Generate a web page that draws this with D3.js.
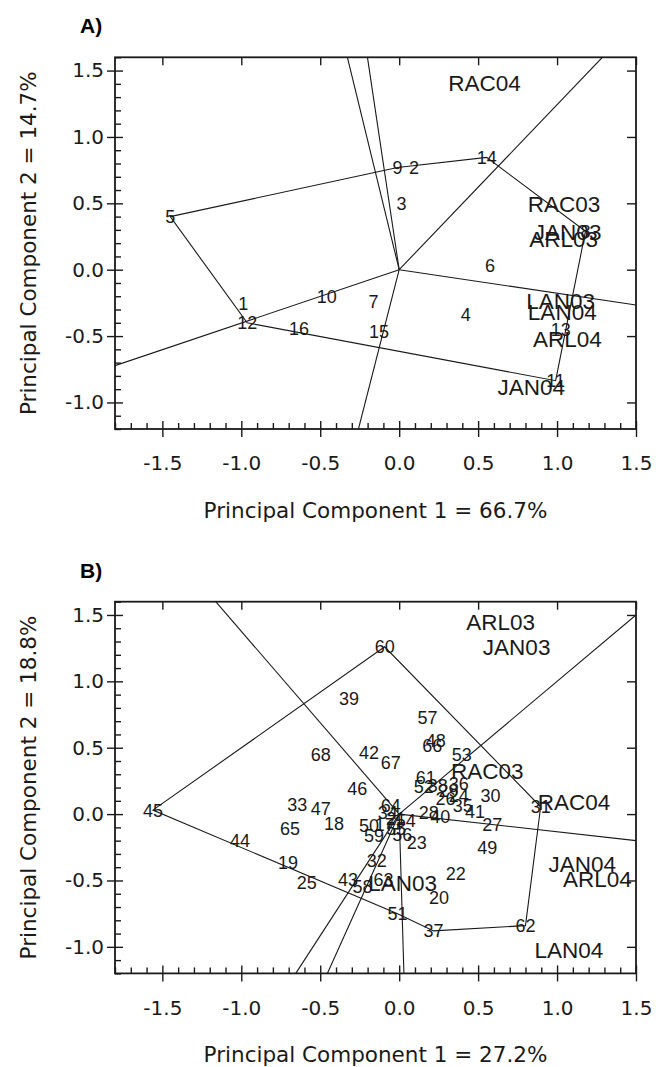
<!DOCTYPE html>
<html><head><meta charset="utf-8">
<script src="https://cdn.jsdelivr.net/npm/d3@7"></script>
<style>body{margin:0;background:#fff}</style>
</head><body>
<script>
// ---------- shared axis data ----------
const xDomain = [-1.8, 1.5];
const yDomain = [-1.2, 1.6];
const xTickValues = [-1.5, -1.0, -0.5, 0.0, 0.5, 1.0, 1.5];
const xTickLabels = ["-1.5", "-1.0", "-0.5", "0.0", "0.5", "1.0", "1.5"];
const yTickValues = [-1.0, -0.5, 0.0, 0.5, 1.0, 1.5];
const yTickLabels = ["-1.0", "-0.5", "0.0", "0.5", "1.0", "1.5"];

// ---------- Panel A ----------
const panelA_label = "A)";
const panelA_xTitle = "Principal Component 1 = 66.7%";
const panelA_yTitle = "Principal Component 2 = 14.7%";
const genoA_ids = ["1","2","3","4","5","6","7","8","9","10","11","12","13","14","15","16"];
const genoA_pc1 = [-0.987, 0.094, 0.014, 0.421, -1.45, 0.575, -0.163, 1.18, -0.01, -0.459, 0.991, -0.963, 1.023, 0.554, -0.128, -0.635];
const genoA_pc2 = [-0.258, 0.768, 0.495, -0.339, 0.40, 0.03, -0.241, 0.29, 0.77, -0.203, -0.836, -0.40, -0.447, 0.846, -0.465, -0.44];
const envA_names = ["RAC04", "RAC03", "JAN03", "ARL03", "LAN03", "LAN04", "ARL04", "JAN04"];
const envA_pc1 = [0.541, 1.044, 1.067, 1.042, 1.023, 1.033, 1.065, 0.837];
const envA_pc2 = [1.41, 0.495, 0.286, 0.234, -0.234, -0.32, -0.522, -0.881];
const hullA = ["5", "9", "14", "8", "11", "12"];
const rayA_pc1 = [-0.328, -0.201, 1.287, 1.5, -0.258, -1.8];
const rayA_pc2 = [1.6, 1.6, 1.6, -0.266, -1.2, -0.723];

// ---------- Panel B ----------
const panelB_label = "B)";
const panelB_xTitle = "Principal Component 1 = 27.2%";
const panelB_yTitle = "Principal Component 2 = 18.8%";
const genoB_ids = ["17","18","19","20","21","22","23","24","25","26","27","28","29","30","31","32","33","34","35","36","37","38","39","40","41","42","43","44","45","46","47","48","49","50","51","52","53","54","55","56","57","58","59","60","61","62","63","64","65","66","67","68"];
const genoB_pc1 = [-0.092, -0.413, -0.704, 0.252, -0.02, 0.358, 0.111, 0.377, -0.586, 0.294, 0.59, 0.187, 0.313, 0.579, 0.896, -0.142, -0.645, -0.073, 0.402, 0.377, 0.218, 0.244, -0.318, 0.26, 0.48, -0.191, -0.324, -1.008, -1.56, -0.265, -0.497, 0.231, 0.558, -0.191, -0.01, 0.155, 0.396, 0.041, -0.02, 0.02, 0.179, -0.233, -0.16, -0.092, 0.168, 0.80, -0.10, -0.054, -0.692, 0.21, -0.054, -0.497];
const genoB_pc2 = [-0.08, -0.071, -0.365, -0.629, -0.035, -0.448, -0.214, 0.138, -0.516, 0.115, -0.075, 0.01, 0.176, 0.138, 0.055, -0.347, 0.07, 0.01, 0.063, 0.229, -0.88, 0.214, 0.867, -0.015, 0.02, 0.465, -0.49, -0.201, 0.03, 0.189, 0.045, 0.553, -0.252, -0.088, -0.75, 0.206, 0.452, -0.05, -0.11, -0.151, 0.728, -0.548, -0.164, 1.26, 0.274, -0.84, -0.49, 0.063, -0.106, 0.515, 0.389, 0.452];
const envB_names = ["ARL03", "JAN03", "RAC03", "RAC04", "JAN04", "ARL04", "LAN03", "LAN04"];
const envB_pc1 = [0.643, 0.744, 0.558, 1.107, 1.16, 1.255, 0.022, 1.075];
const envB_pc2 = [1.445, 1.256, 0.327, 0.095, -0.373, -0.49, -0.518, -1.023];
const hullB = ["45", "60", "31", "62", "37", "51"];
const rayB_pc1 = [-1.162, 1.5, 1.5, 0.03, -0.455, -0.655];
const rayB_pc2 = [1.6, 1.5, -0.2, -1.2, -1.2, -1.2];

// ---------- drawing ----------
const W = 663, H = 1067;
const svg = d3.select("body").append("svg").attr("width", W).attr("height", H)
  .style("font-family", "'DejaVu Sans', Verdana, sans-serif");

const plotLeft = 115, plotRight = 636, plotH = 371.7;
const tickFont = "20px", titleFont = "21.5px";
const ink = "#1a1a1a";

function drawPanel(p, top) {
  const x = d3.scaleLinear().domain(xDomain).range([plotLeft, plotRight]);
  const y = d3.scaleLinear().domain(yDomain).range([top + plotH, top]);
  const g = svg.append("g");
  const bottom = top + plotH;
  const minorX = d3.range(-18, 16).map(v => v / 10).filter(v => !xTickValues.some(t => Math.abs(t - v) < 1e-9));
  const minorY = d3.range(-12, 17).map(v => v / 10).filter(v => !yTickValues.some(t => Math.abs(t - v) < 1e-9));

  const lblY = d => yTickLabels[yTickValues.indexOf(d)];
  const lblX = d => xTickLabels[xTickValues.indexOf(d)];
  const styleAxis = sel => {
    sel.select(".domain").remove();
    sel.selectAll("line").attr("stroke", ink).attr("stroke-width", 1.4);
    sel.selectAll("text").attr("fill", ink).style("font-size", tickFont).style("font-family", "'DejaVu Sans', sans-serif");
  };
  // left axis
  g.append("g").attr("transform", `translate(${plotLeft},0)`)
    .call(d3.axisLeft(y).tickValues(yTickValues).tickSize(8).tickPadding(3).tickFormat(lblY)).call(styleAxis);
  g.append("g").attr("transform", `translate(${plotLeft},0)`)
    .call(d3.axisRight(y).tickValues(yTickValues).tickSize(8).tickFormat("")).call(styleAxis);
  g.append("g").attr("transform", `translate(${plotLeft},0)`)
    .call(d3.axisRight(y).tickValues(minorY).tickSize(6).tickFormat("")).call(styleAxis);
  // bottom axis
  g.append("g").attr("transform", `translate(0,${bottom})`)
    .call(d3.axisBottom(x).tickValues(xTickValues).tickSize(8).tickPadding(19).tickFormat(lblX)).call(styleAxis);
  g.append("g").attr("transform", `translate(0,${bottom})`)
    .call(d3.axisTop(x).tickValues(xTickValues).tickSize(8).tickFormat("")).call(styleAxis);
  g.append("g").attr("transform", `translate(0,${bottom})`)
    .call(d3.axisTop(x).tickValues(minorX).tickSize(6).tickFormat("")).call(styleAxis);
  // top & right (inner majors only)
  g.append("g").attr("transform", `translate(0,${top})`)
    .call(d3.axisBottom(x).tickValues(xTickValues).tickSize(8).tickFormat("")).call(styleAxis);
  g.append("g").attr("transform", `translate(${plotRight},0)`)
    .call(d3.axisLeft(y).tickValues(yTickValues).tickSize(9).tickFormat("")).call(styleAxis);

  // clip
  const clipId = "clip" + Math.round(top);
  svg.append("clipPath").attr("id", clipId).append("rect")
    .attr("x", plotLeft).attr("y", top).attr("width", plotRight - plotLeft).attr("height", plotH);
  const inner = g.append("g").attr("clip-path", `url(#${clipId})`);

  // rays from origin
  p.rayX.forEach((rx, i) => {
    inner.append("line").attr("x1", x(0)).attr("y1", y(0)).attr("x2", x(rx)).attr("y2", y(p.rayY[i]))
      .attr("stroke", ink).attr("stroke-width", 1.1);
  });
  // hull polygon
  const pts = p.hull.map(id => { const i = p.gIds.indexOf(id); return [x(p.gX[i]), y(p.gY[i])]; });
  inner.append("path").attr("d", d3.line()(pts) + "Z").attr("fill", "none").attr("stroke", ink).attr("stroke-width", 1.1);

  // genotype labels
  p.gIds.forEach((id, i) => {
    inner.append("text").attr("x", x(p.gX[i])).attr("y", y(p.gY[i])).attr("dy", "0.36em")
      .attr("text-anchor", "middle").attr("fill", ink)
      .style("font-family", "'Liberation Sans', Arial, sans-serif").style("font-size", "18px").text(id);
  });
  // environment labels
  p.eN.forEach((n, i) => {
    inner.append("text").attr("x", x(p.eX[i])).attr("y", y(p.eY[i])).attr("dy", "0.36em")
      .attr("text-anchor", "middle").attr("fill", ink)
      .style("font-family", "'Liberation Sans', Arial, sans-serif").style("font-size", "22.5px").text(n);
  });

  // frame
  g.append("rect").attr("x", plotLeft).attr("y", top).attr("width", plotRight - plotLeft).attr("height", plotH)
    .attr("fill", "none").attr("stroke", ink).attr("stroke-width", 1.8);

  // titles
  g.append("text").attr("x", (plotLeft + plotRight) / 2).attr("y", bottom + 88.5).attr("text-anchor", "middle")
    .attr("fill", ink).style("font-size", titleFont).text(p.xTitle);
  g.append("text").attr("transform", `translate(36,${top + plotH / 2}) rotate(-90)`).attr("text-anchor", "middle")
    .attr("fill", ink).style("font-size", titleFont).text(p.yTitle);
  g.append("text").attr("x", 80).attr("y", top - 24).attr("fill", "#000")
    .style("font-family", "'Liberation Sans', Arial, sans-serif").style("font-weight", "bold").style("font-size", "21px")
    .text(p.label);
}

drawPanel({label: panelA_label, xTitle: panelA_xTitle, yTitle: panelA_yTitle,
  gIds: genoA_ids, gX: genoA_pc1, gY: genoA_pc2, eN: envA_names, eX: envA_pc1, eY: envA_pc2,
  hull: hullA, rayX: rayA_pc1, rayY: rayA_pc2}, 57.3);
drawPanel({label: panelB_label, xTitle: panelB_xTitle, yTitle: panelB_yTitle,
  gIds: genoB_ids, gX: genoB_pc1, gY: genoB_pc2, eN: envB_names, eX: envB_pc1, eY: envB_pc2,
  hull: hullB, rayX: rayB_pc1, rayY: rayB_pc2}, 601.7);
</script>
</body></html>
